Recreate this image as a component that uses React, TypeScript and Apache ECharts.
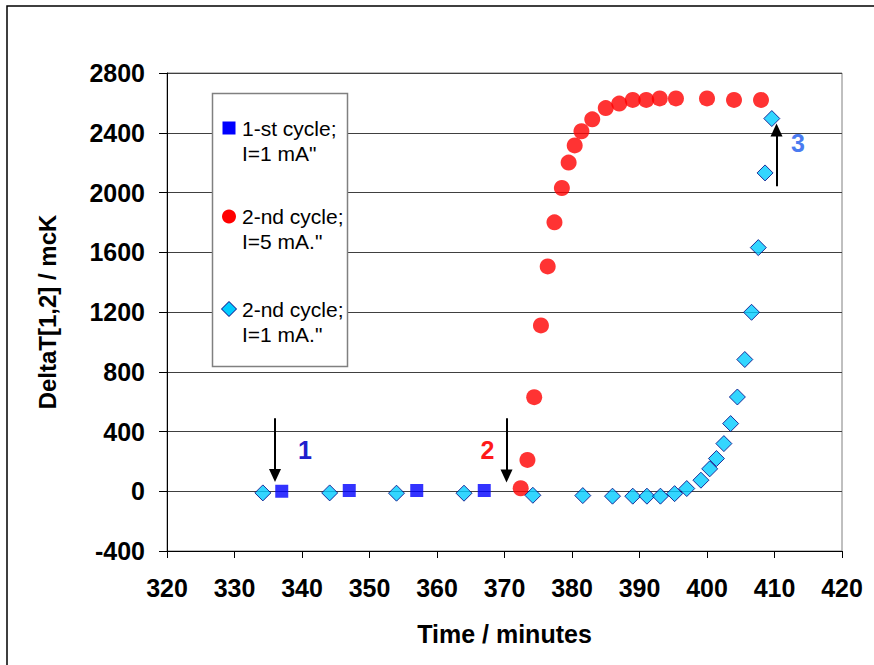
import React, { useEffect, useRef } from 'react';
import * as echarts from 'echarts';

// ---- data ----
const cycle1Time = [337, 347, 357, 367];
const cycle1Delta = [0, 5, 5, 5];

const cycle2HighTime = [372.4, 373.4, 374.4, 375.4, 376.4, 377.4, 378.5, 379.5, 380.4, 381.4, 383, 385, 387, 389, 391, 393, 395.4, 400, 404, 408];
const cycle2HighDelta = [20, 210, 630, 1110, 1505, 1800, 2030, 2200, 2315, 2410, 2490, 2565, 2595, 2620, 2620, 2630, 2630, 2630, 2620, 2620];

const cycle2LowTime = [334.2, 344.1, 354.0, 364.0, 374.2, 381.6, 386.0, 389.0, 391.1, 393.1, 395.2, 397.0, 399.1, 400.4, 401.4, 402.5, 403.5, 404.5, 405.6, 406.6, 407.6, 408.6, 409.6];
const cycle2LowDelta = [-11, -11, -13, -13, -27, -29, -33, -33, -33, -33, -16, 18, 74, 150, 219, 319, 453, 631, 882, 1198, 1631, 2131, 2495];

const seriesNames = ['1-st cycle;\nI=1 mA"', '2-nd cycle;\nI=5 mA."', '2-nd cycle;\nI=1 mA."'];

// arrows: [time, fromValue, toValue]
const arrowTimes = [336, 370.3, 410.3];
const arrowFrom = [489, 489, 2042];
const arrowTo = [105, 102, 2418];
const annotationLabels = ['1', '2', '3'];

const xMin = 320, xMax = 420, xStep = 10;
const yMin = -400, yMax = 2800, yStep = 400;

const FONT = '"Liberation Sans", Arial, Helvetica, sans-serif';

export default function App() {
  const ref = useRef<HTMLDivElement>(null);
  useEffect(() => {
    if (!ref.current) return;
    const chart = echarts.init(ref.current, null, { renderer: 'svg' });
    const pairs = (xs: number[], ys: number[]) => xs.map((x, i) => [x, ys[i]]);

    const legendTextStyle = (txt: string) => ({
      text: txt,
      fontSize: 21,
      fontFamily: FONT,
      lineHeight: 25,
      fill: '#000',
      verticalAlign: 'top',
      align: 'left',
    });

    const option: any = {
      animation: false,
      backgroundColor: '#fff',
      textStyle: { fontFamily: FONT },
      grid: {
        left: 167, right: 32, top: 73, bottom: 114,
        show: true, borderColor: '#808080', borderWidth: 1,
        backgroundColor: 'transparent',
        containLabel: false,
        outerBoundsMode: 'none',
      },
      xAxis: {
        type: 'value', min: xMin, max: xMax, interval: xStep,
        name: 'Time / minutes', nameLocation: 'middle', nameGap: 70,
        nameTextStyle: { fontSize: 25, fontWeight: 'bold', color: '#000', fontFamily: FONT },
        axisLine: { show: true, onZero: false, lineStyle: { color: '#000', width: 1 } },
        axisTick: { show: true, inside: false, length: 7, lineStyle: { color: '#000' } },
        axisLabel: { fontSize: 25, fontWeight: 'bold', color: '#000', margin: 24, fontFamily: FONT,
          formatter: (v: number) => String(v) },
        splitLine: { show: false },
      },
      yAxis: {
        type: 'value', min: yMin, max: yMax, interval: yStep,
        name: 'DeltaT[1,2] / mcK', nameLocation: 'middle', nameGap: 108, nameRotate: 90,
        nameTextStyle: { fontSize: 24, fontWeight: 'bold', color: '#000', fontFamily: FONT },
        axisLine: { show: true, onZero: false, lineStyle: { color: '#000', width: 1 } },
        axisTick: { show: true, inside: false, length: 8, lineStyle: { color: '#000' } },
        axisLabel: { fontSize: 25, fontWeight: 'bold', color: '#000', margin: 22, fontFamily: FONT,
          formatter: (v: number) => String(v) },
        splitLine: { show: true, lineStyle: { color: '#404040', width: 1 } },
      },
      series: [
        {
          name: seriesNames[0], type: 'scatter', symbol: 'rect', symbolSize: 13,
          itemStyle: { color: '#0000FF' },
          data: pairs(cycle1Time, cycle1Delta),
          markLine: {
            silent: true,
            symbol: ['none', 'triangle'],
            symbolSize: [12, 13],
            label: { show: false },
            lineStyle: { color: '#000', width: 2, type: 'solid' },
            emphasis: { disabled: true },
            data: arrowTimes.map((t, i) => [
              { coord: [t, arrowFrom[i]] },
              { coord: [t, arrowTo[i]] },
            ]),
          },
        },
        {
          name: seriesNames[1], type: 'scatter', symbol: 'circle', symbolSize: 16,
          itemStyle: { color: '#FF0000' },
          data: pairs(cycle2HighTime, cycle2HighDelta),
        },
        {
          name: seriesNames[2], type: 'scatter', symbol: 'diamond', symbolSize: 16,
          itemStyle: { color: '#00CCFF', borderColor: '#000080', borderWidth: 1 },
          data: pairs(cycle2LowTime, cycle2LowDelta),
        },
      ],
      graphic: [
        // outer frame
        { type: 'rect', z: 100, silent: true, shape: { x: 7, y: 6, width: 900, height: 700 },
          style: { fill: 'none', stroke: '#000', lineWidth: 1.5 } },
        // legend box
        { type: 'rect', z: 100, silent: true, shape: { x: 212.5, y: 93.5, width: 135, height: 273 },
          style: { fill: '#fff', stroke: '#808080', lineWidth: 1.5 } },
        { type: 'rect', z: 101, silent: true, shape: { x: 222.5, y: 121.5, width: 13, height: 13 },
          style: { fill: '#0000FF' } },
        { type: 'circle', z: 101, silent: true, shape: { cx: 229, cy: 216.5, r: 7 },
          style: { fill: '#FF0000' } },
        { type: 'polygon', z: 101, silent: true,
          shape: { points: [[229, 301.5], [236.5, 309], [229, 316.5], [221.5, 309]] },
          style: { fill: '#00CCFF', stroke: '#000080', lineWidth: 1 } },
        { type: 'text', z: 101, silent: true, x: 242, y: 115.5, style: legendTextStyle(seriesNames[0]) },
        { type: 'text', z: 101, silent: true, x: 242, y: 204, style: legendTextStyle(seriesNames[1]) },
        { type: 'text', z: 101, silent: true, x: 242, y: 296.5, style: legendTextStyle(seriesNames[2]) },
        // annotation numbers
        { type: 'text', z: 101, silent: true, x: 305, y: 450,
          style: { text: annotationLabels[0], fontSize: 25, fontWeight: 'bold', fontFamily: FONT, fill: '#2020CC', align: 'center', verticalAlign: 'middle' } },
        { type: 'text', z: 101, silent: true, x: 487.5, y: 450,
          style: { text: annotationLabels[1], fontSize: 25, fontWeight: 'bold', fontFamily: FONT, fill: '#FF1A1A', align: 'center', verticalAlign: 'middle' } },
        { type: 'text', z: 101, silent: true, x: 798, y: 143,
          style: { text: annotationLabels[2], fontSize: 25, fontWeight: 'bold', fontFamily: FONT, fill: '#4A7BF0', align: 'center', verticalAlign: 'middle' } },
      ],
    };
    chart.setOption(option);
    return () => chart.dispose();
  }, []);
  return (
    <div
      ref={ref}
      style={{ position: 'fixed', left: 0, top: 0, width: 874, height: 665, background: '#fff' }}
    />
  );
}
